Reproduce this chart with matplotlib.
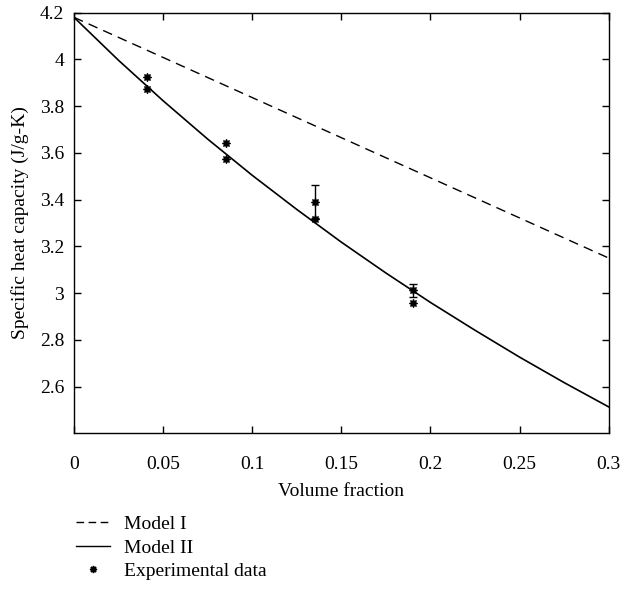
import matplotlib
matplotlib.use("Agg")
import matplotlib.pyplot as plt
from matplotlib.lines import Line2D

plt.rcParams['font.family'] = ['Liberation Serif', 'DejaVu Serif']

# Model I (linear)
m1_x = [0.0, 0.3]
m1_y = [4.18, 3.15]

# Model II curve
m2_x = [0.0, 0.025, 0.05, 0.075, 0.1, 0.125, 0.15, 0.175, 0.2, 0.225, 0.25, 0.275, 0.3]
m2_y = [4.18, 3.996, 3.823, 3.659, 3.504, 3.358, 3.218, 3.086, 2.960, 2.841, 2.726, 2.617, 2.513]

# Experimental data
exp_x = [0.041, 0.041, 0.085, 0.085, 0.135, 0.135, 0.19, 0.19]
exp_y = [3.923, 3.873, 3.641, 3.572, 3.391, 3.319, 3.012, 2.958]

# Error bars
err_x = [0.135, 0.19]
err_y = [3.391, 3.012]
err_e = [0.071, 0.028]

x_ticks = [0, 0.05, 0.1, 0.15, 0.2, 0.25, 0.3]
x_labels = ['0', '0.05', '0.1', '0.15', '0.2', '0.25', '0.3']
y_ticks = [2.6, 2.8, 3.0, 3.2, 3.4, 3.6, 3.8, 4.0, 4.2]
y_labels = ['2.6', '2.8', '3', '3.2', '3.4', '3.6', '3.8', '4', '4.2']

fig = plt.figure(figsize=(6.22, 5.98), dpi=100)
ax = fig.add_axes([0.119, 0.2754, 0.8596, 0.7034])

marker = (8, 1, 0)
ax.plot(m1_x, m1_y, color='black', linestyle=(0, (7, 4.5)), linewidth=1.0)
ax.plot(m2_x, m2_y, color='black', linestyle='-', linewidth=1.2)
ax.errorbar(err_x, err_y, yerr=err_e, fmt='none', ecolor='black', elinewidth=1.0,
            capsize=3, capthick=1.0)
ax.plot(exp_x, exp_y, linestyle='none', marker=marker, markersize=6,
        color='black', markeredgewidth=0.8)

ax.set_xlim(0, 0.3)
ax.set_ylim(2.4, 4.2)
ax.set_xticks(x_ticks)
ax.set_xticklabels(x_labels)
ax.set_yticks(y_ticks)
ax.set_yticklabels(y_labels)
ax.tick_params(direction='in', top=True, right=True, labelsize=14, length=5, width=1)
ax.tick_params(axis='x', pad=16)
ax.tick_params(axis='y', pad=7)
for s in ax.spines.values():
    s.set_linewidth(1.0)
ax.set_xlabel('Volume fraction', fontsize=14, labelpad=7.5)
ax.set_ylabel('Specific heat capacity (J/g-K)', fontsize=14, labelpad=8)

handles = [
    Line2D([], [], color='black', linestyle=(0, (5.5, 3.2)), linewidth=1.0),
    Line2D([], [], color='black', linestyle='-', linewidth=1.0),
    Line2D([], [], color='black', linestyle='none', marker=marker, markersize=5),
]
labels = ['Model I', 'Model II', 'Experimental data']
fig.legend(handles, labels, loc='upper left', bbox_to_anchor=(0.122, 0.138),
           frameon=False, fontsize=14, handlelength=1.75, labelspacing=0.3,
           handletextpad=0.75, borderpad=0, borderaxespad=0)

fig.savefig('out.png', dpi=100)
